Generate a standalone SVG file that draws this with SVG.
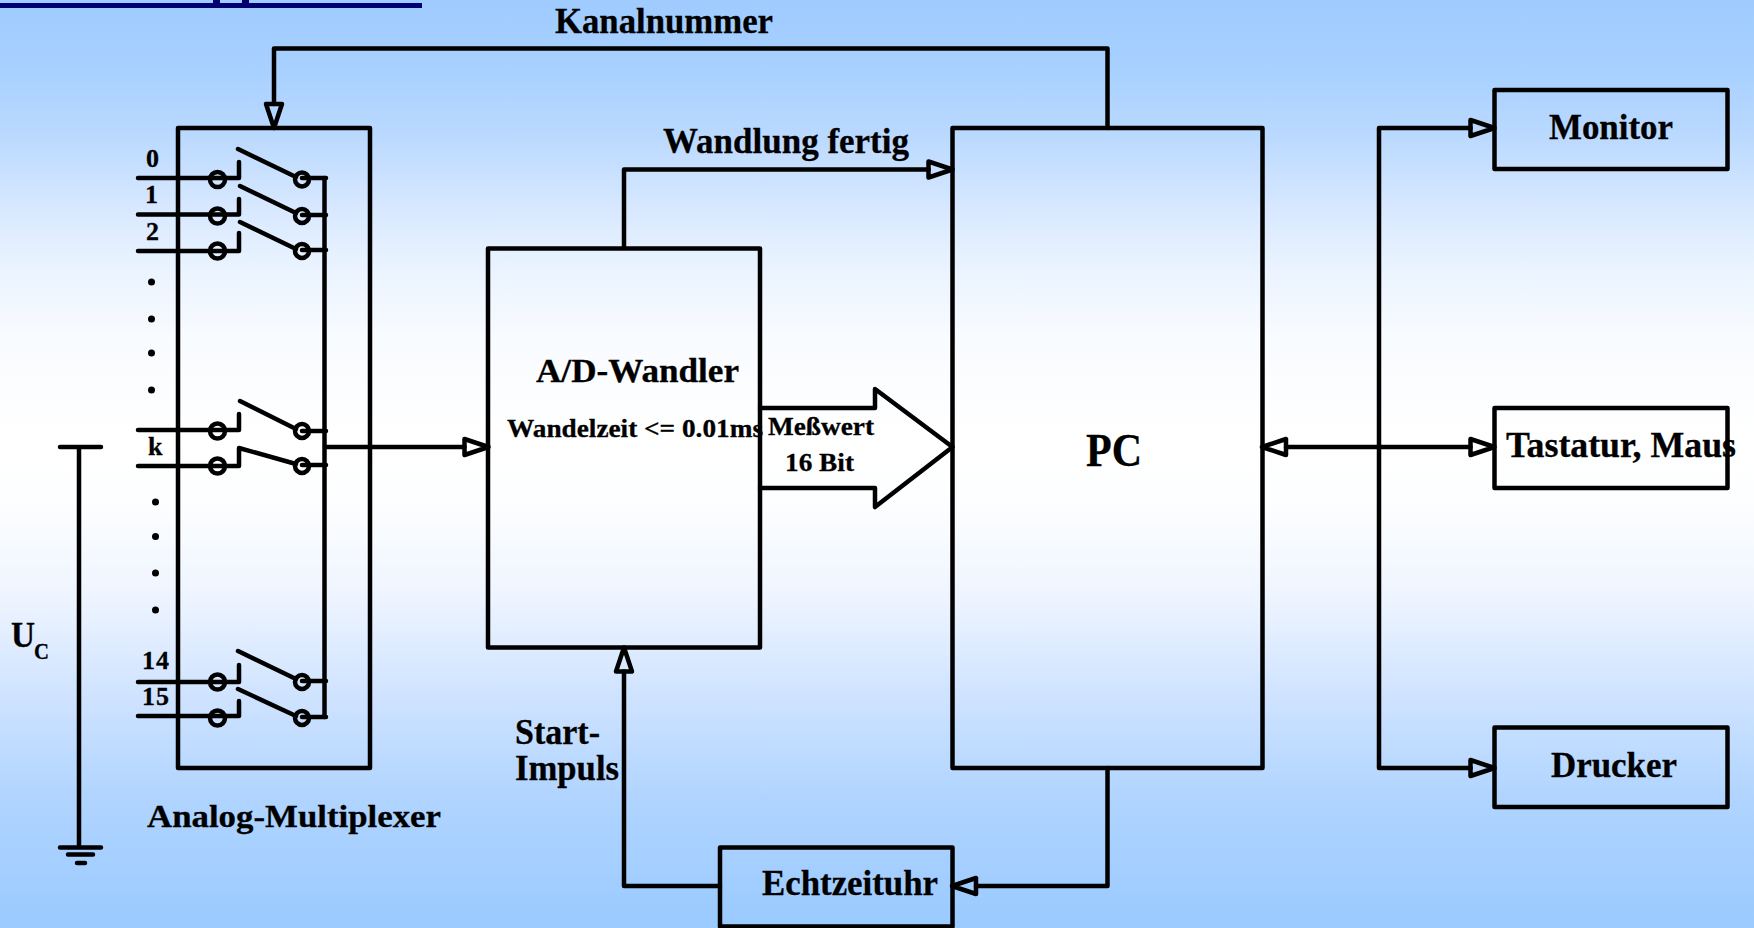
<svg xmlns="http://www.w3.org/2000/svg" width="1754" height="928" viewBox="0 0 1754 928">
<style>
.l{fill:none;stroke:#000;stroke-width:4.500;stroke-linecap:round;stroke-linejoin:round}
.c{fill:none;stroke:#000;stroke-width:4.500}
.d{fill:#000;stroke:none}
.a{marker-end:url(#ah)}
text{font-family:"Liberation Serif","Times New Roman",serif;font-weight:bold;fill:#000;stroke:#000;stroke-width:.3}
</style>
<defs>
<linearGradient id="bg" gradientUnits="userSpaceOnUse" x1="0" y1="0" x2="0" y2="928">
<stop offset="0" stop-color="#9fcbff"/>
<stop offset="0.07" stop-color="#a7d0ff"/>
<stop offset="0.14" stop-color="#b8d8ff"/>
<stop offset="0.22" stop-color="#d6e7ff"/>
<stop offset="0.28" stop-color="#e8f2ff"/>
<stop offset="0.36" stop-color="#f8fbff"/>
<stop offset="0.47" stop-color="#ffffff"/>
<stop offset="0.54" stop-color="#fdfeff"/>
<stop offset="0.64" stop-color="#eff5ff"/>
<stop offset="0.75" stop-color="#cfe3ff"/>
<stop offset="0.86" stop-color="#b0d4ff"/>
<stop offset="1" stop-color="#9acaff"/>
</linearGradient>
<marker id="ah" markerUnits="userSpaceOnUse" markerWidth="30" markerHeight="24" refX="2" refY="12" orient="auto-start-reverse" overflow="visible">
<path d="M2,4 L26,12 L2,20 Z" class="l"/>
</marker>
</defs>
<rect id="background" width="1754" height="928" fill="url(#bg)"/>
<g id="title-rule" fill="#000070">
<rect x="0" y="3" width="422" height="5"/>
<rect x="213" y="0" width="7" height="3"/>
<rect x="242" y="0" width="7" height="3"/>
</g>
<g id="connectors">
<path class="l a" d="M1107.500,128 V48.500 H274 V104"/>
<path class="l a" d="M624,248 V169.500 H928.500"/>
<path class="l a" d="M325,447 H464.500"/>
<path class="l" d="M760,408 H875 V389 L952.500,447 L875,507 V488 H760"/>
<path class="l a" d="M1379,447 V128 H1470.500"/>
<path class="l a" d="M1379,447 V768 H1470.500"/>
<path class="l a" d="M1286,447 H1470.500" marker-start="url(#ah)"/>
<path class="l a" d="M1107.500,768 V886 H976"/>
<path class="l a" d="M720,886 H624 V671.500"/>
</g>
<g id="uc-source">
<path class="l" d="M60,447 H101 M79,447 V847.500 M60,847.500 H101 M68,854.500 H93 M77,863 H85"/>
<text x="11" y="647" font-size="35" textLength="24" lengthAdjust="spacingAndGlyphs">U</text>
<text x="34" y="659" font-size="24" textLength="15" lengthAdjust="spacingAndGlyphs">C</text>
</g>
<g id="multiplexer">
<rect class="l" x="178" y="128" width="192" height="640"/>
<path class="l" d="M138,178 H239 V162 M238,149 L296,177 M302,178 H326"/>
<circle class="c" cx="217.500" cy="179.500" r="7.500"/><circle class="c" cx="302" cy="179.500" r="7"/>
<path class="l" d="M138,214.500 H239 V199 M240,186 L296,213 M302,215 H326"/>
<circle class="c" cx="217.500" cy="216" r="7.500"/><circle class="c" cx="302" cy="216" r="7"/>
<path class="l" d="M138,251 H239 V233 M240,222 L296,249 M302,250 H326"/>
<circle class="c" cx="217.500" cy="251" r="7.500"/><circle class="c" cx="302" cy="251" r="7"/>
<path class="l" d="M138,430 H239 V414 M240,401 L296,429 M302,431 H326"/>
<circle class="c" cx="217.500" cy="431" r="7.500"/><circle class="c" cx="302" cy="431" r="7"/>
<path class="l" d="M138,466 H239 V448 L296,464 M302,465 H326"/>
<circle class="c" cx="217.500" cy="466" r="7.500"/><circle class="c" cx="302" cy="466" r="7"/>
<path class="l" d="M138,682 H239 V665 M238,651 L296,679 M302,681 H326"/>
<circle class="c" cx="217.500" cy="682" r="7.500"/><circle class="c" cx="302" cy="682" r="7"/>
<path class="l" d="M138,716 H239 V701 M238,689 L296,716 M302,717 H326"/>
<circle class="c" cx="217.500" cy="718" r="7.500"/><circle class="c" cx="302" cy="718" r="7"/>
<path class="l" d="M324.500,178 V717"/>
<circle class="d" cx="151.500" cy="282" r="3.500"/><circle class="d" cx="151.500" cy="319" r="3.500"/><circle class="d" cx="151.500" cy="353" r="3.500"/><circle class="d" cx="151.500" cy="390" r="3.500"/>
<circle class="d" cx="155.500" cy="502" r="3.500"/><circle class="d" cx="155.500" cy="536.500" r="3.500"/><circle class="d" cx="155.500" cy="573" r="3.500"/><circle class="d" cx="155.500" cy="610" r="3.500"/>
<text x="146" y="167" font-size="26" textLength="13">0</text>
<text x="145" y="203" font-size="26" textLength="13">1</text>
<text x="146" y="240" font-size="26" textLength="13">2</text>
<text x="148" y="455" font-size="26">k</text>
<text x="142" y="669" font-size="26" textLength="27">14</text>
<text x="142" y="705" font-size="26" textLength="27">15</text>
<text x="147" y="827" font-size="32" textLength="294" lengthAdjust="spacingAndGlyphs">Analog-Multiplexer</text>
</g>
<g id="ad-wandler">
<rect class="l" x="488" y="248.500" width="272" height="399"/>
<text x="536" y="382" font-size="33" textLength="203" lengthAdjust="spacingAndGlyphs">A/D-Wandler</text>
<text x="507" y="437" font-size="26" textLength="256" lengthAdjust="spacingAndGlyphs">Wandelzeit &lt;= 0.01ms</text>
<text x="768" y="435" font-size="26" textLength="106" lengthAdjust="spacingAndGlyphs">Meßwert</text>
<text x="785" y="471" font-size="26" textLength="69" lengthAdjust="spacingAndGlyphs">16 Bit</text>
</g>
<g id="pc">
<rect class="l" x="952.500" y="128" width="310" height="640"/>
<text x="1086" y="466" font-size="46" textLength="56" lengthAdjust="spacingAndGlyphs">PC</text>
</g>
<g id="monitor">
<rect class="l" x="1494.500" y="90" width="233" height="79"/>
<text x="1549" y="139" font-size="35" textLength="124" lengthAdjust="spacingAndGlyphs">Monitor</text>
</g>
<g id="tastatur">
<rect class="l" x="1494.500" y="408" width="233" height="80"/>
<text x="1506" y="457" font-size="35" textLength="230" lengthAdjust="spacingAndGlyphs">Tastatur, Maus</text>
</g>
<g id="drucker">
<rect class="l" x="1494.500" y="727.500" width="233" height="79.500"/>
<text x="1551" y="777" font-size="35" textLength="126" lengthAdjust="spacingAndGlyphs">Drucker</text>
</g>
<g id="echtzeituhr">
<rect class="l" x="720" y="847.500" width="232.500" height="79"/>
<text x="762" y="895" font-size="35" textLength="176" lengthAdjust="spacingAndGlyphs">Echtzeituhr</text>
</g>
<g id="labels">
<text x="555" y="33" font-size="36" textLength="218" lengthAdjust="spacingAndGlyphs">Kanalnummer</text>
<text x="663" y="153" font-size="36" textLength="246" lengthAdjust="spacingAndGlyphs">Wandlung fertig</text>
<text x="515" y="744" font-size="36" textLength="85" lengthAdjust="spacingAndGlyphs">Start-</text>
<text x="515" y="779.500" font-size="36" textLength="104" lengthAdjust="spacingAndGlyphs">Impuls</text>
</g>
</svg>
